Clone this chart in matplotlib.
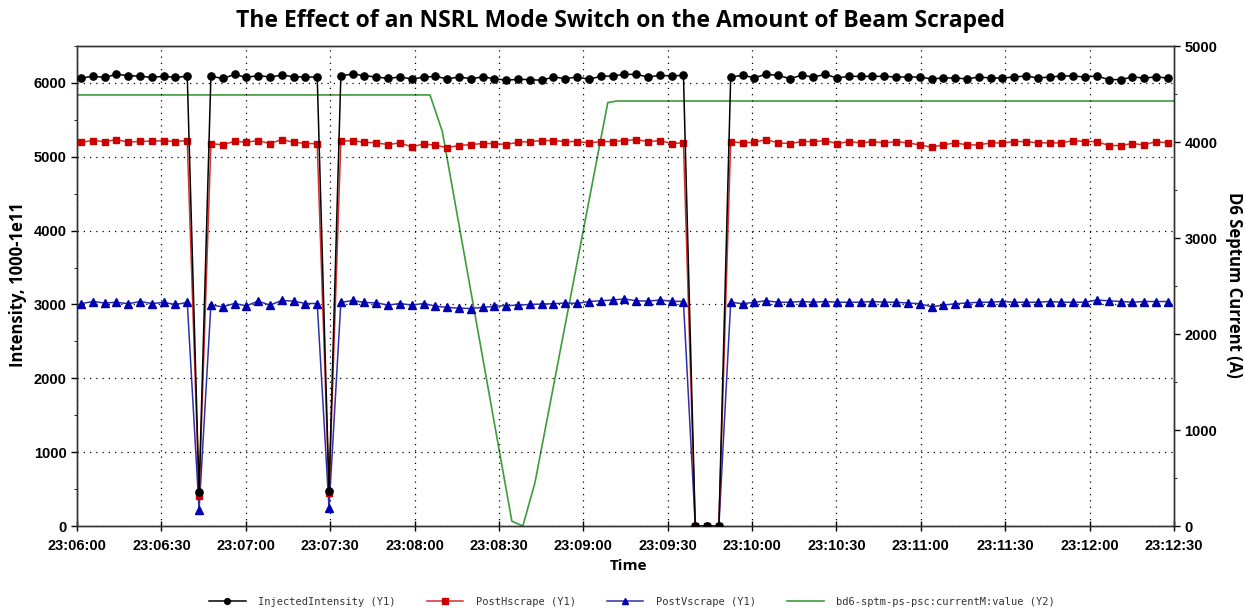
import numpy as np
import matplotlib
matplotlib.use("Agg")
import matplotlib.pyplot as plt
from matplotlib.ticker import MultipleLocator, FixedLocator

# ---- data (seconds after 23:06:00) ----
T0 = 1.4          # first sample time (s)
DT = 4.2          # sampling interval (s)

injected = [6065, 6090, 6075, 6115, 6100, 6090, 6075, 6090, 6075, 6090,
            455,
            6090, 6060, 6115, 6075, 6100, 6080, 6105, 6085, 6080, 6080,
            480,
            6098, 6120, 6098, 6080, 6062, 6080, 6054, 6076, 6090,
            6054, 6080, 6058, 6080, 6058, 6036, 6049, 6045, 6036, 6080, 6058,
            6080, 6049, 6089, 6094, 6116, 6116, 6080, 6103, 6094, 6103,
            0, 0, 0,
            6080, 6103, 6071, 6116, 6103, 6058, 6103,
            6080, 6116, 6067, 6089, 6089, 6089, 6089, 6080, 6080, 6080, 6054,
            6067, 6067, 6054, 6080, 6067, 6067, 6080, 6094, 6067, 6080, 6094,
            6094, 6080, 6094, 6045, 6045, 6080, 6067, 6080, 6067]

post_h = [5197, 5219, 5206, 5233, 5197, 5210, 5210, 5219, 5206, 5219,
          406,
          5179, 5161, 5210, 5197, 5219, 5179, 5233, 5197, 5179, 5179,
          446,
          5210, 5219, 5197, 5188, 5165, 5188, 5134, 5174, 5156,
          5125, 5152, 5165, 5179, 5179, 5165, 5197, 5206, 5219, 5219, 5206,
          5206, 5188, 5206, 5206, 5219, 5233, 5206, 5219, 5179, 5188,
          0, 0, 0,
          5206, 5188, 5197, 5233, 5188, 5179, 5206,
          5206, 5219, 5179, 5206, 5188, 5206, 5188, 5206, 5188, 5161, 5130,
          5161, 5188, 5161, 5161, 5188, 5188, 5206, 5206, 5188, 5188, 5188,
          5219, 5206, 5206, 5152, 5152, 5179, 5161, 5206, 5188]

post_v = [3010, 3040, 3020, 3030, 3010, 3040, 3013, 3027, 3000, 3027,
          214,
          2991, 2969, 3013, 2982, 3045, 2991, 3054, 3045, 3013, 3013,
          240,
          3027, 3054, 3027, 3022, 2991, 3013, 2991, 3013, 2978,
          2960, 2950, 2945, 2960, 2975, 2985, 2990, 3000, 3005, 3010, 3020,
          3015, 3040, 3050, 3060, 3075, 3050, 3045, 3060, 3045, 3040,
          0, 0, 0,
          3030, 3010, 3030, 3050, 3030, 3030, 3040,
          3030, 3040, 3030, 3030, 3030, 3040, 3030, 3030, 3020, 3010, 2970,
          2990, 3010, 3020, 3030, 3030, 3040, 3030, 3030, 3030, 3040, 3030,
          3030, 3030, 3060, 3050, 3040, 3030, 3040, 3040, 3040]

septum_t = [0, 125.5, 129.9, 154.6, 158.5, 162.8, 188.7, 191.9, 390]
septum_v = [4490, 4490, 4107, 50, 0, 450, 4410, 4427, 4427]

xtick_sec = [0, 30, 60, 90, 120, 150, 180, 210, 240, 270, 300, 330, 360, 390]
xtick_labels = ["23:06:00", "23:06:30", "23:07:00", "23:07:30", "23:08:00",
                "23:08:30", "23:09:00", "23:09:30", "23:10:00", "23:10:30",
                "23:11:00", "23:11:30", "23:12:00", "23:12:30"]

times = T0 + DT * np.arange(len(injected))

# ---- figure ----
W, H = 1245, 609
fig = plt.figure(figsize=(W / 100, H / 100), dpi=100)
ax = fig.add_axes([77 / W, 1 - 526 / H, (1174 - 77) / W, (526 - 46) / H])
ax2 = ax.twinx()

l1, = ax.plot(times, injected, color="black", lw=1.1, marker="o", ms=5.2,
              label="InjectedIntensity (Y1)", zorder=5)
l2, = ax.plot(times, post_h, color="#d03030", lw=1.1, marker="s", ms=5.0,
              mfc="#cc0000", mec="#cc0000", label="PostHscrape (Y1)", zorder=4)
l3, = ax.plot(times, post_v, color="#3030a8", lw=1.1, marker="^", ms=5.5,
              mfc="#0000b0", mec="#0000b0", label="PostVscrape (Y1)", zorder=3)
l4, = ax2.plot(septum_t, septum_v, color="#3c9c3c", lw=1.2,
               label="bd6-sptm-ps-psc:currentM:value (Y2)")

ax.set_zorder(ax2.get_zorder() + 1)
ax.patch.set_visible(False)

ax.set_xlim(0, 390)
ax.set_ylim(0, 6500)
ax2.set_ylim(0, 5000)

ax.xaxis.set_major_locator(FixedLocator(xtick_sec))
ax.set_xticklabels(xtick_labels)
ax.yaxis.set_major_locator(MultipleLocator(1000))
ax.yaxis.set_minor_locator(MultipleLocator(500))
ax2.yaxis.set_major_locator(MultipleLocator(1000))
ax2.yaxis.set_minor_locator(MultipleLocator(500))

ax.grid(True, which="major", color="black", linestyle=(0, (1, 4)), lw=0.9)

ax.tick_params(axis="x", direction="inout", length=7, width=1, pad=6)
ax.tick_params(axis="y", direction="out", length=4, width=1)
ax.tick_params(axis="y", which="minor", direction="out", length=2.5)
ax2.tick_params(axis="y", direction="out", length=4, width=1)
ax2.tick_params(axis="y", which="minor", direction="out", length=2.5)

for lab in ax.get_xticklabels() + ax.get_yticklabels() + ax2.get_yticklabels():
    lab.set_fontfamily("Liberation Sans")
    lab.set_fontweight("bold")
    lab.set_fontsize(10.5)

for a in (ax, ax2):
    for s in a.spines.values():
        s.set_color("#333333")
        s.set_linewidth(1)

fig.text(621 / W, 1 - 21 / H,
         "The Effect of an NSRL Mode Switch on the Amount of Beam Scraped",
         ha="center", va="center", fontsize=16.5, fontweight="bold",
         family="Open Sans")
fig.text(18 / W, 1 - 285 / H, "Intensity, 1000-1e11", rotation=90,
         ha="center", va="center", fontsize=12, fontweight="bold",
         family="Open Sans")
fig.text(1234 / W, 1 - 285 / H, "D6 Septum Current (A)", rotation=270,
         ha="center", va="center", fontsize=12, fontweight="bold",
         family="Open Sans")
fig.text(628 / W, 1 - 566 / H, "Time", ha="center", va="center",
         fontsize=11, fontweight="bold", family="Open Sans")

leg = fig.legend(handles=[l1, l2, l3, l4], loc="center", ncol=4,
                 bbox_to_anchor=(632 / W, 1 - 602 / H), frameon=False,
                 prop=dict(family="DejaVu Sans Mono", size=7.5),
                 handlelength=3.5, columnspacing=3.0, handletextpad=1.2,
                 markerscale=0.8)
for t in leg.get_texts():
    t.set_color("#333333")

fig.savefig("out.png", dpi=100)
